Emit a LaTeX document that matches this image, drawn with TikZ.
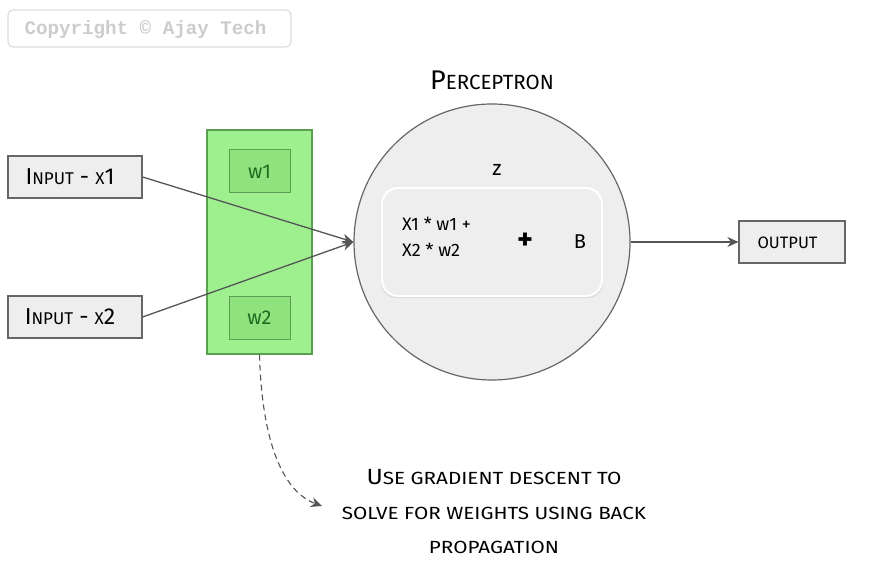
\documentclass[tikz,border=0pt]{standalone}
\usepackage{fontspec}
\setmainfont{Fira Sans}
\newfontfamily\cmono{Liberation Mono}
\usetikzlibrary{arrows.meta,shadows}
\definecolor{boxfill}{HTML}{EEEEEE}
\definecolor{boxline}{HTML}{666666}
\definecolor{edgec}{HTML}{555555}
\definecolor{gfill}{HTML}{9EF08F}
\definecolor{gline}{HTML}{5B9E52}
\definecolor{wfill}{HTML}{8FE37F}
\definecolor{wtext}{HTML}{1F6B1F}
\definecolor{cpline}{HTML}{DDDDDD}
\definecolor{cptext}{HTML}{CCCCCC}
\newcommand\sml[2][0.74]{\scalebox{#1}{#2}}
\newcommand\wsml[1]{\scalebox{0.94}[0.8]{#1}}
\begin{document}
\begin{tikzpicture}[x=1pt,y=-1pt,
  graybox/.style={draw=boxline,fill=boxfill,line width=1.2pt,inner sep=0pt,
    minimum width=#1,minimum height=42pt},
  wbox/.style={draw=gline,fill=wfill,line width=1pt,inner sep=0pt,
    minimum width=61pt,minimum height=43pt,text=wtext,font=\fontsize{20}{20}\selectfont},
  conn/.style={draw=edgec,line width=1.3pt,-{Stealth[length=11pt,width=10pt,inset=3.5pt]}},
]
\useasboundingbox (0,0) rectangle (890,569);
% copyright
\node (cp) [draw=cpline,line width=1.2pt,rounded corners=5pt,minimum width=283pt,
  minimum height=37pt,inner sep=0pt] at (149.5,28.5) {};
\node (cpt) [text=cptext,font=\cmono\bfseries\fontsize{19.2}{19.2}\selectfont]
  at (145.5,30) {Copyright © Ajay Tech};
% inputs
\node (in1) [graybox=134pt] at (75,177) {};
\node (in1t) [font=\fontsize{23}{23}\selectfont] at (70,177) {I\sml{NPUT} - \sml{X}1};
\node (in2) [graybox=134pt] at (75,317) {};
\node (in2t) [font=\fontsize{23}{23}\selectfont] at (70,317) {I\sml{NPUT} - \sml{X}2};
% weights
\node (g) [draw=gline,fill=gfill,line width=1.2pt,minimum width=105pt,
  minimum height=224pt,inner sep=0pt] at (259.5,242) {};
\node (w1) [wbox] at (259.5,171.5) {w1};
\node (w2) [wbox] at (259.5,317.5) {w2};
% perceptron
\node (p) [circle,draw=boxline,fill=boxfill,line width=1.2pt,minimum size=276pt,
  inner sep=0pt] at (492,242) {};
\node (title) [font=\fontsize{27}{27}\selectfont] at (492,80) {P\sml[0.76]{ERCEPTRON}};
\node (zbox) [draw=white,fill=boxfill,line width=2pt,rounded corners=16pt,
  minimum width=220pt,minimum height=108pt,inner sep=0pt,
  drop shadow={opacity=0.18,shadow xshift=0pt,shadow yshift=-1.5pt,shadow scale=1.01}]
  at (492,242) {};
\node (zl) [font=\fontsize{21}{21}\selectfont] at (497,170) {z};
\node (sum) [anchor=west,align=left,inner sep=0pt,font=\fontsize{18}{26}\selectfont]
  at (402,237) {X1 * w1 +\\X2 * w2};
\node (plus) [font=\bfseries\fontsize{30}{30}\selectfont] at (525,241) {+};
\node (bias) [font=\fontsize{20}{20}\selectfont] at (580,242) {B};
% output
\node (out) [graybox=106pt] at (792,242) {};
\node (outt) [font=\fontsize{16.5}{16.5}\selectfont] at (787.5,243) {OUTPUT};
% connectors
\draw[conn] (in1.east) -- (p.west);
\draw[conn] (in2.east) -- (p.west);
\draw[conn] (p.east) -- (out.west);
% note
\node (note) [align=center,font=\fontsize{22}{34.5}\selectfont] at (494,512)
  {\scalebox{1.12}[1]{U}\wsml{SE GRADIENT DESCENT TO}\\
   \wsml{SOLVE FOR WEIGHTS USING BACK}\\
   \wsml{PROPAGATION}};
\coordinate (tip) at (322,506);
\draw[conn,line width=1.1pt,dash pattern=on 6pt off 4pt] (g.south)
  .. controls (262,445) and (284,492) .. (tip);
\end{tikzpicture}
\end{document}
